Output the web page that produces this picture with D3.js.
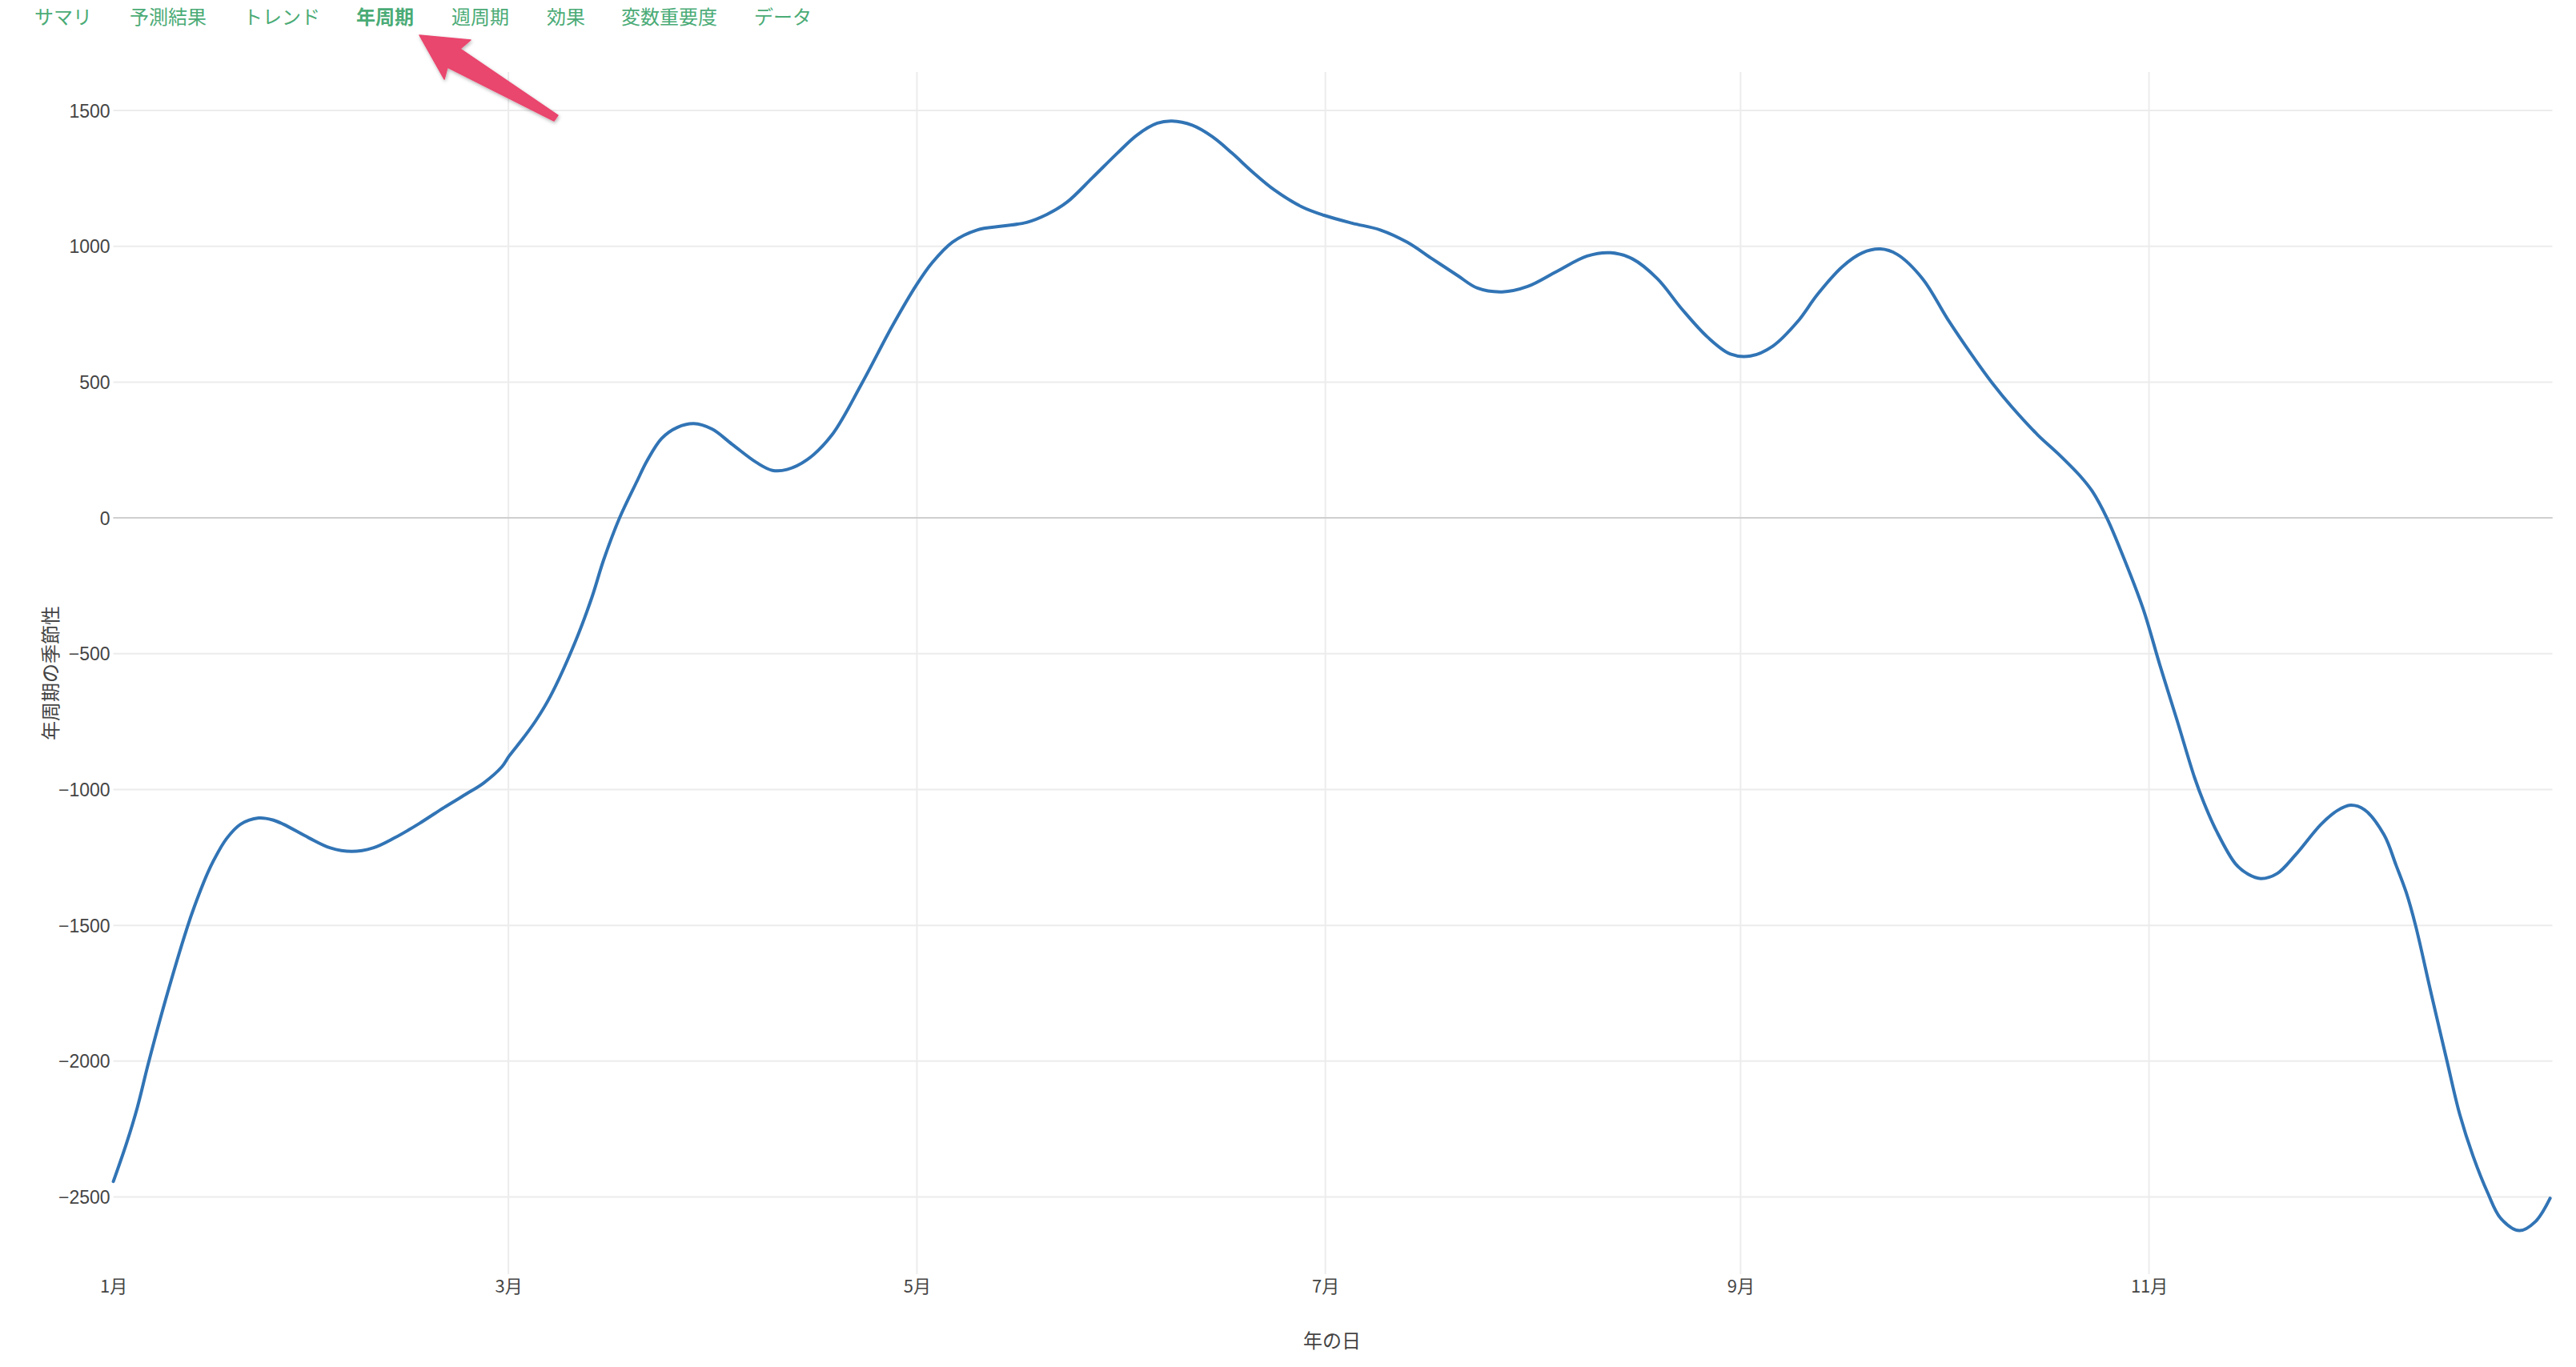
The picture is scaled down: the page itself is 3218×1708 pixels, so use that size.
<!DOCTYPE html>
<html>
<head>
<meta charset="utf-8">
<script src="https://cdn.jsdelivr.net/npm/d3@7"></script>
<style>
  html, body { margin: 0; padding: 0; background: #fff; }
  svg { display: block; }
</style>
</head>
<body>
<svg id="chart" width="3218" height="1708"></svg>
<script>
// ---- data ----
const navItems = ["サマリ", "予測結果", "トレンド", "年周期", "週周期", "効果", "変数重要度", "データ"];
const activeNav = "年周期";
const dayOfYear = [0, 2, 3.6, 5.2, 7.8, 11, 12.1, 14, 15, 16.9, 19, 21.7, 23.8, 25.4, 29.2, 32.4, 35.6, 38.8, 42, 45.7, 49.4, 52.6, 55.3, 58, 59.1, 61.2, 63.1, 65.3, 69, 71.5, 73.2, 75.6, 78.2, 79.7, 81.9, 84.2, 86.7, 89.4, 92.4, 96.1, 98.4, 100.6, 103.6, 107.3, 111.8, 116.3, 120, 122.3, 125.3, 129, 132.7, 136.4, 139.4, 142.4, 146.2, 149.9, 152.9, 155.9, 158.1, 161.1, 164.1, 167.1, 170.1, 173.4, 177.5, 180.8, 185, 189.2, 193.2, 197, 200.7, 203.7, 207.4, 211.2, 215.6, 220.1, 223.6, 226.9, 230.6, 234.3, 238.1, 241.5, 244.5, 247.8, 251.5, 254.5, 258.2, 261.2, 263.9, 266.4, 270.2, 273.9, 277.6, 280.6, 283.6, 287.4, 290.4, 293.8, 295.5, 297.7, 299.9, 303.1, 305.6, 308.2, 310.8, 312.2, 314.1, 316.9, 318.8, 320.7, 323.1, 325.9, 329.7, 332.1, 334.1, 336.2, 339.1, 340.9, 342.4, 343.8, 346.1, 348.5, 350.4, 352.4, 354.6, 356.5, 359.3, 361.7, 363.9];
const seasonality = [-2443, -2300, -2169, -2011, -1774, -1510, -1431, -1312, -1260, -1181, -1128, -1105, -1112, -1128, -1178, -1215, -1228, -1215, -1178, -1125, -1066, -1018, -976, -917, -877, -811, -746, -655, -455, -290, -156, 0, 135, 210, 293, 333, 347, 327, 271, 203, 175, 178, 214, 305, 496, 705, 860, 940, 1015, 1060, 1074, 1088, 1117, 1162, 1252, 1342, 1410, 1453, 1461, 1446, 1404, 1342, 1274, 1207, 1145, 1114, 1085, 1060, 1015, 953, 893, 846, 832, 852, 908, 964, 976, 953, 880, 767, 665, 603, 596, 632, 722, 823, 925, 976, 990, 970, 880, 733, 598, 496, 406, 305, 237, 152, 99, 0, -127, -333, -540, -746, -956, -1049, -1154, -1273, -1312, -1328, -1310, -1240, -1128, -1078, -1058, -1075, -1167, -1279, -1378, -1500, -1747, -2000, -2196, -2350, -2486, -2578, -2624, -2591, -2505];
const yTicks = [-2500, -2000, -1500, -1000, -500, 0, 500, 1000, 1500];
const xTickMonths = [0, 2, 4, 6, 8, 10];
const xTickLabels = ["1月", "3月", "5月", "7月", "9月", "11月"];
const yTitle = "年周期の季節性";
const xTitle = "年の日";

// ---- layout ----
const svg = d3.select("#chart");
const year = 2017;
const start = new Date(year, 0, 1);
const plotLeft = 141.6, plotRight = 3186.5, plotTop = 90, plotBottom = 1592;
const x = d3.scaleTime()
  .domain([start, d3.timeDay.offset(start, 364)])
  .range([plotLeft, plotRight]);
const y = d3.scaleLinear().domain([-2500, 1500]).range([1495.5, 138]);
const tickFont = "'Liberation Sans', Arial, 'Noto Sans CJK JP', sans-serif";
const cjkFont = "'Noto Sans CJK JP', 'Liberation Sans', sans-serif";

// nav
const navX = [43, 162, 304, 445, 564, 683, 776, 942];
svg.append("g").selectAll("text").data(navItems).join("text")
  .attr("x", (d, i) => navX[i]).attr("y", 30)
  .attr("font-family", cjkFont)
  .attr("font-size", 24)
  .attr("font-weight", d => d === activeNav ? 700 : 400)
  .attr("fill", "#4aab76")
  .text(d => d);

// grid
const grid = svg.append("g");
grid.selectAll("line.h").data(yTicks).join("line")
  .attr("x1", plotLeft).attr("x2", plotRight + 2)
  .attr("y1", d => y(d)).attr("y2", d => y(d))
  .attr("stroke", d => d === 0 ? "#cfcfcf" : "#ececec")
  .attr("stroke-width", 2);
const monthDates = xTickMonths.map(m => new Date(year, m, 1));
grid.selectAll("line.v").data(monthDates.slice(1)).join("line")
  .attr("x1", d => x(d)).attr("x2", d => x(d))
  .attr("y1", plotTop).attr("y2", plotBottom)
  .attr("stroke", "#ececec").attr("stroke-width", 2);
grid.append("line")
  .attr("x1", plotLeft).attr("x2", plotRight + 2)
  .attr("y1", y(0)).attr("y2", y(0))
  .attr("stroke", "#cfcfcf").attr("stroke-width", 2);

// y tick labels
const yAxis = d3.axisLeft(y).tickValues(yTicks).tickSize(0).tickPadding(0)
  .tickFormat(d => d < 0 ? "\u2212" + Math.abs(d) : String(d));
const yg = svg.append("g").attr("transform", `translate(${plotLeft - 4},0)`).call(yAxis);
yg.select(".domain").remove();
yg.selectAll("text").attr("font-family", tickFont).attr("font-size", 23).attr("fill", "#444").attr("dy", "0.35em");

// x tick labels
const xAxis = d3.axisBottom(x).tickValues(monthDates).tickSize(0).tickPadding(0)
  .tickFormat((d, i) => xTickLabels[i]);
const xg = svg.append("g").attr("transform", `translate(0,1607)`).call(xAxis);
xg.select(".domain").remove();
xg.selectAll("text").attr("font-family", cjkFont).attr("font-size", 22).attr("fill", "#444").attr("dy", "0.35em");

// titles
svg.append("text")
  .attr("transform", "translate(64,841) rotate(-90)")
  .attr("text-anchor", "middle").attr("dy", "0.35em")
  .attr("font-family", cjkFont).attr("font-size", 24).attr("fill", "#444")
  .text(yTitle);
svg.append("text")
  .attr("x", 1664).attr("y", 1676)
  .attr("text-anchor", "middle").attr("dy", "0.35em")
  .attr("font-family", cjkFont).attr("font-size", 24).attr("fill", "#444")
  .text(xTitle);

// line
const data = dayOfYear.map((d, i) => ({ date: new Date(start.getTime() + d * 86400000), v: seasonality[i] }));
const line = d3.line().x(d => x(d.date)).y(d => y(d.v)).curve(d3.curveCatmullRom.alpha(0.5));
svg.append("path").datum(data)
  .attr("d", line)
  .attr("fill", "none")
  .attr("stroke", "#3174b5")
  .attr("stroke-width", 4)
  .attr("stroke-linejoin", "round")
  .attr("stroke-linecap", "round");

// annotation arrow
const defs = svg.append("defs");
const f = defs.append("filter").attr("id", "sh").attr("x", "-20%").attr("y", "-20%").attr("width", "140%").attr("height", "140%");
f.append("feDropShadow").attr("dx", 1).attr("dy", 2).attr("stdDeviation", 2).attr("flood-color", "#000").attr("flood-opacity", 0.3);
const arrowPts = [[524, 44], [588, 50], [575, 61], [697, 144], [692, 151], [559, 84], [555, 99]];
svg.append("polygon")
  .attr("points", arrowPts.map(p => p.join(",")).join(" "))
  .attr("fill", "#e9466e")
  .attr("stroke", "#e9466e").attr("stroke-width", 1.5).attr("stroke-linejoin", "round")
  .attr("filter", "url(#sh)");
</script>
</body>
</html>
